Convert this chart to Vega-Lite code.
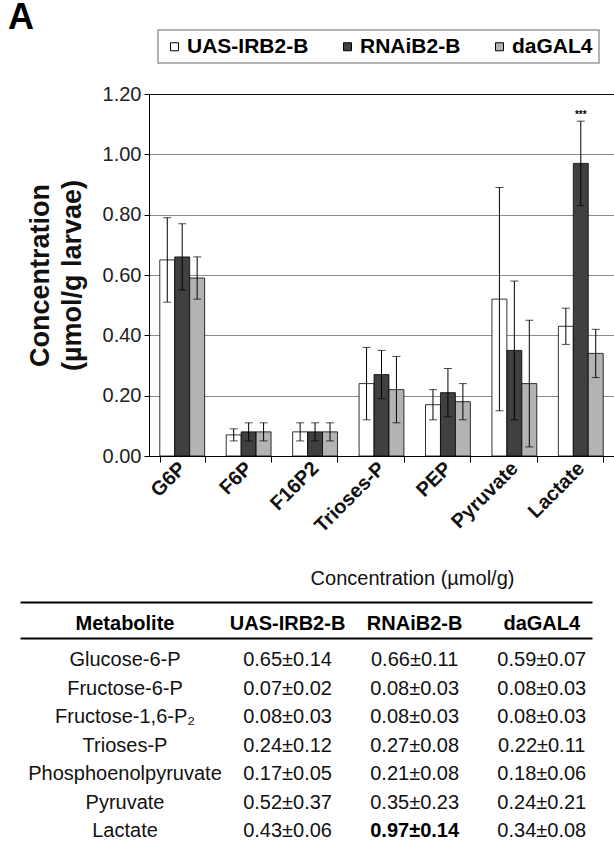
{
  "$schema": "https://vega.github.io/schema/vega-lite/v6.json",
  "padding": {"left": 8, "top": 0, "right": 0, "bottom": 0},
  "title": {"text": "A", "anchor": "start", "fontSize": 36, "fontWeight": "bold", "font": "Liberation Sans", "color": "#000", "dx": -18, "offset": -8},
  "spacing": 32,
  "datasets": {
    "bars": [
      {"metabolite": "G6P", "name": "Glucose-6-P", "genotype": "UAS-IRB2-B", "mean": 0.65, "sd": 0.14, "cell": "0.65±0.14", "bold": false},
      {"metabolite": "G6P", "name": "Glucose-6-P", "genotype": "RNAiB2-B", "mean": 0.66, "sd": 0.11, "cell": "0.66±0.11", "bold": false},
      {"metabolite": "G6P", "name": "Glucose-6-P", "genotype": "daGAL4", "mean": 0.59, "sd": 0.07, "cell": "0.59±0.07", "bold": false},
      {"metabolite": "F6P", "name": "Fructose-6-P", "genotype": "UAS-IRB2-B", "mean": 0.07, "sd": 0.02, "cell": "0.07±0.02", "bold": false},
      {"metabolite": "F6P", "name": "Fructose-6-P", "genotype": "RNAiB2-B", "mean": 0.08, "sd": 0.03, "cell": "0.08±0.03", "bold": false},
      {"metabolite": "F6P", "name": "Fructose-6-P", "genotype": "daGAL4", "mean": 0.08, "sd": 0.03, "cell": "0.08±0.03", "bold": false},
      {"metabolite": "F16P2", "name": "Fructose-1,6-P₂", "genotype": "UAS-IRB2-B", "mean": 0.08, "sd": 0.03, "cell": "0.08±0.03", "bold": false},
      {"metabolite": "F16P2", "name": "Fructose-1,6-P₂", "genotype": "RNAiB2-B", "mean": 0.08, "sd": 0.03, "cell": "0.08±0.03", "bold": false},
      {"metabolite": "F16P2", "name": "Fructose-1,6-P₂", "genotype": "daGAL4", "mean": 0.08, "sd": 0.03, "cell": "0.08±0.03", "bold": false},
      {"metabolite": "Trioses-P", "name": "Trioses-P", "genotype": "UAS-IRB2-B", "mean": 0.24, "sd": 0.12, "cell": "0.24±0.12", "bold": false},
      {"metabolite": "Trioses-P", "name": "Trioses-P", "genotype": "RNAiB2-B", "mean": 0.27, "sd": 0.08, "cell": "0.27±0.08", "bold": false},
      {"metabolite": "Trioses-P", "name": "Trioses-P", "genotype": "daGAL4", "mean": 0.22, "sd": 0.11, "cell": "0.22±0.11", "bold": false},
      {"metabolite": "PEP", "name": "Phosphoenolpyruvate", "genotype": "UAS-IRB2-B", "mean": 0.17, "sd": 0.05, "cell": "0.17±0.05", "bold": false},
      {"metabolite": "PEP", "name": "Phosphoenolpyruvate", "genotype": "RNAiB2-B", "mean": 0.21, "sd": 0.08, "cell": "0.21±0.08", "bold": false},
      {"metabolite": "PEP", "name": "Phosphoenolpyruvate", "genotype": "daGAL4", "mean": 0.18, "sd": 0.06, "cell": "0.18±0.06", "bold": false},
      {"metabolite": "Pyruvate", "name": "Pyruvate", "genotype": "UAS-IRB2-B", "mean": 0.52, "sd": 0.37, "cell": "0.52±0.37", "bold": false},
      {"metabolite": "Pyruvate", "name": "Pyruvate", "genotype": "RNAiB2-B", "mean": 0.35, "sd": 0.23, "cell": "0.35±0.23", "bold": false},
      {"metabolite": "Pyruvate", "name": "Pyruvate", "genotype": "daGAL4", "mean": 0.24, "sd": 0.21, "cell": "0.24±0.21", "bold": false},
      {"metabolite": "Lactate", "name": "Lactate", "genotype": "UAS-IRB2-B", "mean": 0.43, "sd": 0.06, "cell": "0.43±0.06", "bold": false},
      {"metabolite": "Lactate", "name": "Lactate", "genotype": "RNAiB2-B", "mean": 0.97, "sd": 0.14, "cell": "0.97±0.14", "bold": true},
      {"metabolite": "Lactate", "name": "Lactate", "genotype": "daGAL4", "mean": 0.34, "sd": 0.08, "cell": "0.34±0.08", "bold": false}
    ],
    "headers": [
      {"col": "Metabolite"},
      {"col": "UAS-IRB2-B"},
      {"col": "RNAiB2-B"},
      {"col": "daGAL4"}
    ]
  },
  "vconcat": [
    {
      "width": 465,
      "height": 362,
      "data": {"name": "bars"},
      "encoding": {
        "x": {
          "field": "metabolite", "type": "nominal",
          "sort": ["G6P", "F6P", "F16P2", "Trioses-P", "PEP", "Pyruvate", "Lactate"],
          "scale": {"type": "band", "paddingInner": 0.325, "paddingOuter": 0.1625},
          "axis": {
            "title": null, "labelAngle": -45, "labelAlign": "right", "labelBaseline": "middle",
            "labelFontSize": 20, "labelFontWeight": "bold", "labelColor": "#111",
            "tickBand": "extent", "tickSize": 6, "tickColor": "#000", "domainColor": "#000",
            "labelPadding": 3, "grid": false
          }
        },
        "xOffset": {"field": "genotype", "type": "nominal", "sort": ["UAS-IRB2-B", "RNAiB2-B", "daGAL4"], "scale": {"type": "band", "paddingInner": 0}},
        "y": {
          "field": "mean", "type": "quantitative",
          "scale": {"domain": [0, 1.2]},
          "axis": {
            "values": [0, 0.2, 0.4, 0.6, 0.8, 1.0, 1.2], "format": ".2f",
            "labelFontSize": 20, "labelColor": "#222", "labelPadding": 3,
            "tickSize": 5, "tickColor": "#000", "domainColor": "#000",
            "gridColor": {"condition": {"test": "datum.value >= 1.19", "value": "#111"}, "value": "#8a8a8a"},
            "title": ["Concentration", "(µmol/g larvae)"],
            "titleFontSize": 27, "titleFontWeight": "bold", "titleColor": "#111",
            "titleLineHeight": 32, "titlePadding": 16
          }
        }
      },
      "layer": [
        {
          "mark": {"type": "bar", "stroke": "#000", "strokeWidth": 0.8},
          "encoding": {
            "color": {
              "field": "genotype", "type": "nominal",
              "scale": {"domain": ["UAS-IRB2-B", "RNAiB2-B", "daGAL4"], "range": ["#ffffff", "#404040", "#b3b3b3"]},
              "legend": {
                "title": null, "orient": "none", "legendX": 9, "legendY": -64,
                "direction": "horizontal", "columns": 3, "gridAlign": "each", "columnPadding": 28,
                "symbolType": "square", "symbolSize": 64, "symbolStrokeColor": "#000", "symbolStrokeWidth": 1,
                "labelFontSize": 21, "labelFontWeight": "bold", "labelColor": "#000", "labelOffset": 2, "labelLimit": 300,
                "padding": 6, "strokeColor": "#999", "fillColor": "#fff",
                "encode": {"legend": {"update": {"strokeWidth": {"value": 1.5}}}}
              }
            }
          }
        },
        {
          "mark": {"type": "errorbar", "color": "#000", "ticks": {"size": 8, "color": "#000"}, "rule": {"strokeWidth": 1}},
          "encoding": {
            "yError": {"field": "sd"}
          }
        },
        {
          "transform": [{"filter": "datum.bold"}],
          "mark": {"type": "text", "text": "***", "fontSize": 10, "fontWeight": "bold", "baseline": "bottom", "dy": -1, "color": "#000"},
          "encoding": {
            "y": {"datum": 1.11, "type": "quantitative"}
          }
        }
      ]
    },
    {
      "width": 443,
      "height": 243,
      "layer": [
        {
          "layer": [
            {
              "data": {"name": "bars"},
              "transform": [{"filter": "datum.genotype === 'UAS-IRB2-B'"}],
              "mark": {"type": "text", "fontSize": 20, "dy": 8, "color": "#111"},
              "encoding": {
                "x": {
                  "datum": "Metabolite", "type": "nominal", "bandPosition": 0.1836,
                  "scale": {"type": "band", "domain": ["Metabolite"], "range": [-129, 443], "paddingInner": 0, "paddingOuter": 0},
                  "axis": {"orient": "top", "offset": -36, "labels": false, "ticks": false, "domain": true, "domainWidth": 2, "domainColor": "#000", "grid": false, "title": null}
                },
                "y": {
                  "field": "name", "type": "nominal",
                  "scale": {"type": "band", "domain": ["header", "Glucose-6-P", "Fructose-6-P", "Fructose-1,6-P₂", "Trioses-P", "Phosphoenolpyruvate", "Pyruvate", "Lactate"], "paddingInner": 0, "paddingOuter": 0.263},
                  "axis": null
                },
                "text": {"field": "name"}
              }
            },
            {
              "data": {"name": "headers"},
              "transform": [{"filter": "datum.col === 'Metabolite'"}],
              "mark": {"type": "text", "fontSize": 20, "fontWeight": "bold", "color": "#000"},
              "encoding": {
                "x": {"field": "col", "type": "nominal", "bandPosition": 0.1836},
                "y": {"datum": "header", "type": "nominal"},
                "text": {"field": "col"}
              }
            }
          ]
        },
        {
          "layer": [
            {
              "data": {"name": "bars"},
              "transform": [{"filter": "!datum.bold"}],
              "mark": {"type": "text", "fontSize": 20, "dy": 8, "color": "#111"},
              "encoding": {
                "x": {
                  "field": "genotype", "type": "nominal",
                  "scale": {"type": "band", "domain": ["UAS-IRB2-B", "RNAiB2-B", "daGAL4"], "range": [-129, 443], "paddingInner": 0.5, "paddingOuter": 1.0656, "align": 0.9274},
                  "axis": {
                    "orient": "top", "labels": false, "ticks": false, "domain": true, "domainWidth": 2, "domainColor": "#000", "grid": false,
                    "title": "Concentration (µmol/g)", "titleFontSize": 20, "titleFontWeight": "normal", "titleColor": "#111",
                    "titleX": 263, "titlePadding": 14
                  }
                },
                "y": {"field": "name", "type": "nominal"},
                "text": {"field": "cell"}
              }
            },
            {
              "data": {"name": "bars"},
              "transform": [{"filter": "datum.bold"}],
              "mark": {"type": "text", "fontSize": 20, "fontWeight": "bold", "dy": 8, "color": "#000"},
              "encoding": {
                "x": {"field": "genotype", "type": "nominal"},
                "y": {"field": "name", "type": "nominal"},
                "text": {"field": "cell"}
              }
            },
            {
              "data": {"name": "headers"},
              "transform": [{"filter": "datum.col !== 'Metabolite'"}],
              "mark": {"type": "text", "fontSize": 20, "fontWeight": "bold", "color": "#000"},
              "encoding": {
                "x": {"field": "col", "type": "nominal"},
                "y": {"datum": "header", "type": "nominal"},
                "text": {"field": "col"}
              }
            }
          ]
        }
      ],
      "resolve": {"scale": {"x": "independent"}, "axis": {"x": "independent"}}
    }
  ],
  "config": {
    "font": "Liberation Sans",
    "view": {"stroke": null},
    "axis": {"labelFont": "Liberation Sans", "titleFont": "Liberation Sans"},
    "legend": {"labelFont": "Liberation Sans"},
    "title": {"font": "Liberation Sans"},
    "text": {"font": "Liberation Sans"}
  }
}
